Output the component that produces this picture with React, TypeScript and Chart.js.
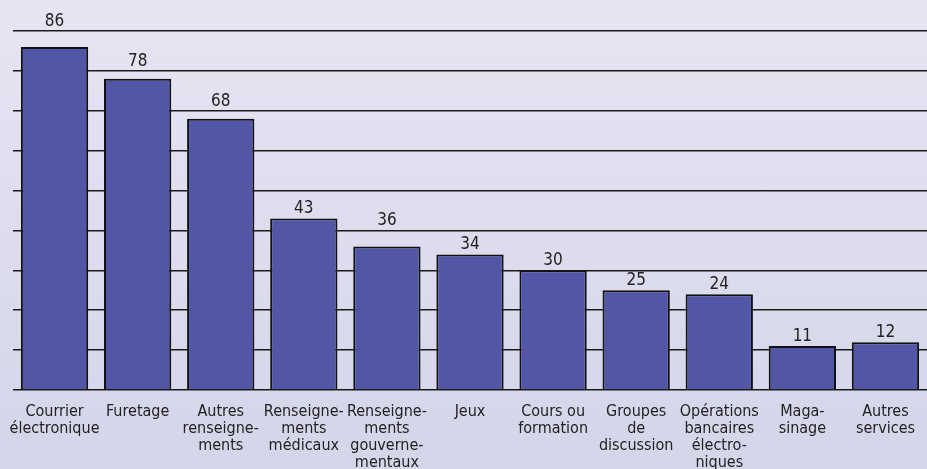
import React, { useEffect, useRef } from "react";
import { Chart, registerables } from "chart.js";

Chart.register(...registerables);

const categories: string[][] = [
  ["Courrier", "électronique"],
  ["Furetage"],
  ["Autres", "renseigne-", "ments"],
  ["Renseigne-", "ments", "médicaux"],
  ["Renseigne-", "ments", "gouverne-", "mentaux"],
  ["Jeux"],
  ["Cours ou", "formation"],
  ["Groupes", "de", "discussion"],
  ["Opérations", "bancaires", "électro-", "niques"],
  ["Maga-", "sinage"],
  ["Autres", "services"],
];
const values: number[] = [86, 78, 68, 43, 36, 34, 30, 25, 24, 11, 12];
const yMin = 0;
const yMax = 90;
const yStep = 10;

const FONT = "'Liberation Sans Narrow', 'DejaVu Sans Condensed', 'Liberation Sans', sans-serif";

const valueLabels = {
  id: "valueLabels",
  afterDatasetsDraw(chart: any) {
    const ctx = chart.ctx;
    const y = chart.scales.y;
    const meta = chart.getDatasetMeta(0);
    const gridYs: number[] = [];
    for (let v = yMin; v <= yMax; v += yStep) gridYs.push(y.getPixelForValue(v));
    ctx.save();
    ctx.font = `17px ${FONT}`;
    ctx.fillStyle = "#222";
    ctx.textAlign = "center";
    ctx.textBaseline = "alphabetic";
    const capH = 12;
    const gap = 5;
    meta.data.forEach((bar: any, i: number) => {
      let bottom = bar.y - gap;
      const top = bottom - capH;
      const hit = gridYs.find((g) => g >= top - 1 && g <= bottom + 1);
      if (hit !== undefined) {
        bottom = hit - gap;
      }
      ctx.fillText(String(values[i]), bar.x, bottom);
    });
    ctx.restore();
  },
};

export default function App() {
  const ref = useRef<HTMLCanvasElement>(null);
  useEffect(() => {
    if (!ref.current) return;
    const chart = new Chart(ref.current, {
      type: "bar",
      data: {
        labels: categories,
        datasets: [
          {
            data: values,
            backgroundColor: "#5156a6",
            borderColor: "#111",
            borderWidth: 2,
            barPercentage: 0.81,
            categoryPercentage: 1,
          },
        ],
      },
      options: {
        animation: false,
        responsive: false,
        maintainAspectRatio: false,
        layout: { padding: { top: 31, left: 13, right: 0, bottom: 0 } },
        plugins: { legend: { display: false }, tooltip: { enabled: false } },
        scales: {
          x: {
            grid: { display: false },
            border: { display: false },
            ticks: {
              color: "#222",
              font: { family: FONT, size: 16, lineHeight: 1.06 },
              padding: 5,
              maxRotation: 0,
              autoSkip: false,
            },
            afterFit: (s: any) => {
              s.height = 79;
            },
          },
          y: {
            min: yMin,
            max: yMax,
            ticks: { display: false, stepSize: yStep },
            grid: { color: "#1a1a1a", lineWidth: 1.5, drawTicks: false },
            border: { display: false },
            afterFit: (s: any) => {
              s.width = 0;
            },
          },
        },
      },
      plugins: [valueLabels],
    });
    return () => chart.destroy();
  }, []);
  return (
    <div
      style={{
        position: "fixed",
        left: 0,
        top: 0,
        width: 927,
        height: 469,
        background: "linear-gradient(#e5e5f3, #d5d5ea)",
      }}
    >
      <canvas ref={ref} width={927} height={469} style={{ display: "block" }} />
    </div>
  );
}
